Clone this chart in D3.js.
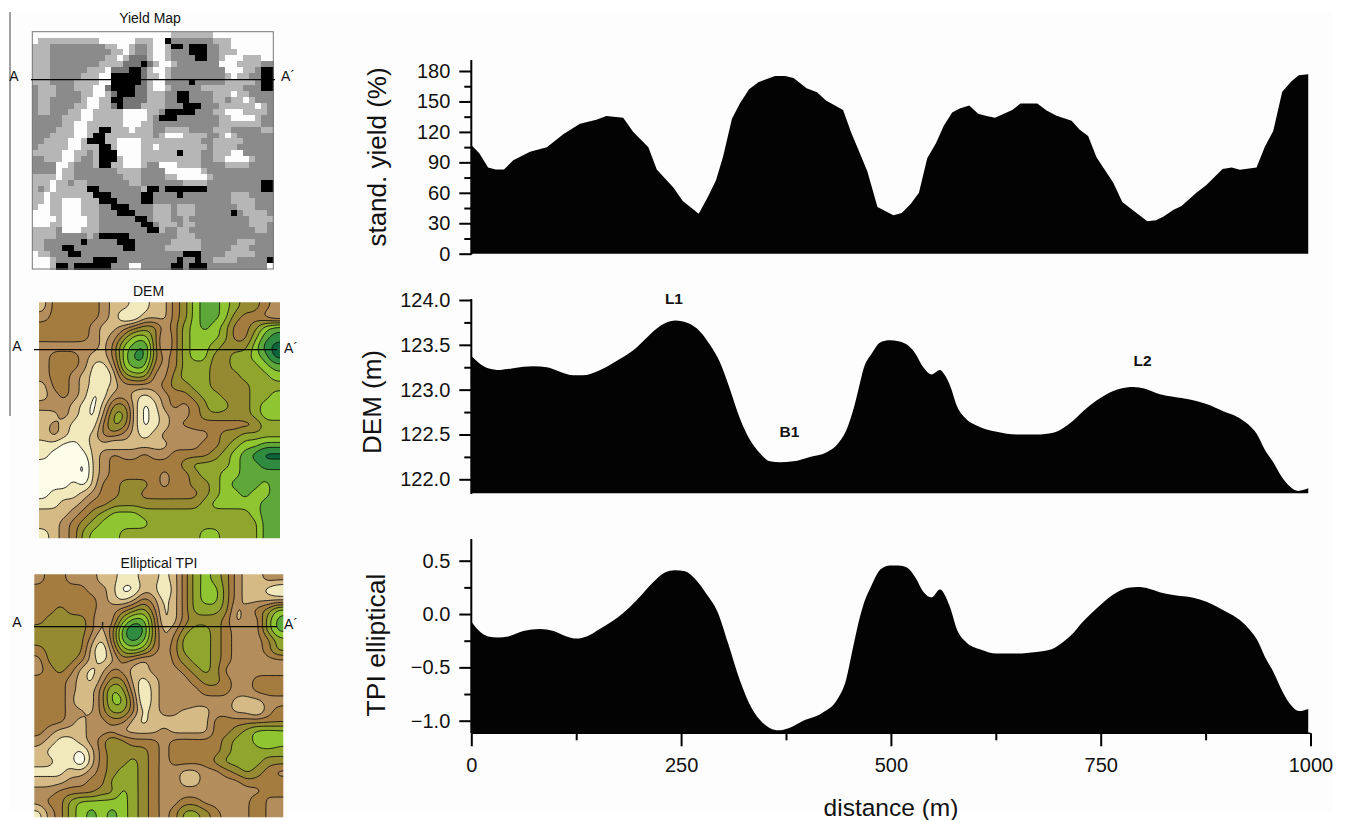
<!DOCTYPE html>
<html><head><meta charset="utf-8">
<script src="https://d3js.org/d3.v7.min.js"></script>
<style>html,body{margin:0;padding:0;background:#fff}svg{display:block}text{font-family:"Liberation Sans",Arial,sans-serif;fill:#111}</style>
</head><body><div id="c"></div>
<script>
// ---------- profile data (distance m / value) ----------
const yieldDist=[0,9.5,20,29,39,50,70,90,110,129.5,149,161,181,193,211,221,241,252,271,282,291.5,300,310.6,320,331,342,362,374,384,399.5,412,422.6,443,453,463,472,484,503,513,523.5,533.4,543.3,553.7,563,573,582,593.4,604,614,624,644.6,654.5,674.4,685.5,697.4,715.3,725,735,745,765,775.7,792.7,805.5,815.8,824.5,836.4,846.3,864,876,895.2,906,915.9,935.7,945.6,955.6,966.3,977.4,986,997.3];
const yieldVal=[107,99,85,83,83,92,100.5,105,118,128,132,135.6,134,120,105,83,65,52,39.4,56,72,95.6,133,148,162,169,175,175,173,163,159,151,141.5,118.6,99,81,46,38,40,49,60,94,108.7,126,139,143,146,138,135.6,134,141.5,148,148,141,136,131,122,116,95,70,51,40,32,33,36.5,43,47,60,67.6,83.4,85,82.8,85,105.4,120.9,159.6,170,175.7,176.7];
const demDist=[0,10.3,20,34,50,74,90,105.6,121.5,133,149,173,193,209,225,243,258.6,272.4,284.4,296,308,320,332,344,356,367.8,383.6,403.5,423,437,447,455,463,467,477,487.7,498.9,508.8,519.5,528.6,538.6,548.5,558.4,564.4,570.3,579.5,590,602,626,650,673.6,693.5,705,715.3,729,745,757,773,788.8,802.7,820.5,836.4,856.3,876,896,914,926,935.7,945.6,955.6,965.5,975.4,985.4,991,997.3];
const demVal=[123.375,123.29,123.24,123.22,123.24,123.26,123.25,123.2,123.16,123.16,123.2,123.32,123.44,123.58,123.71,123.77,123.74,123.65,123.5,123.31,123.01,122.68,122.44,122.29,122.2,122.19,122.2,122.25,122.3,122.4,122.55,122.77,123.07,123.22,123.4,123.53,123.55,123.54,123.5,123.41,123.25,123.17,123.22,123.16,123.05,122.8,122.67,122.6,122.53,122.5,122.5,122.52,122.57,122.64,122.76,122.88,122.95,123.01,123.03,123.01,122.95,122.92,122.89,122.84,122.76,122.69,122.61,122.51,122.33,122.19,122.03,121.92,121.87,121.88,121.9];
const tpiDist=[0,9.5,20,32,44,62,82,98,113.6,125.5,137.4,153,181,197,217,230.7,242.7,254.6,266.5,280,294,306,320,334,346,356,366,378,395.5,417.4,437,446.5,455,463,467,477,487.7,498.9,508.8,519.5,528.6,538.6,548.5,558.4,569.5,579.5,590,606,626,650,673.6,691.5,702,715,729,745,765,783,794.7,806.6,822.5,836.4,860.3,876,900,915.8,927.8,936.5,945.6,955.6,967.5,977.4,986,997.3];
const tpiVal=[-0.07,-0.16,-0.21,-0.22,-0.21,-0.16,-0.14,-0.16,-0.21,-0.23,-0.21,-0.14,0.01,0.13,0.30,0.39,0.41,0.40,0.33,0.19,0.01,-0.275,-0.62,-0.88,-1.01,-1.07,-1.09,-1.07,-1.0,-0.93,-0.79,-0.62,-0.31,-0.03,0.08,0.27,0.42,0.456,0.456,0.434,0.35,0.21,0.156,0.23,0.085,-0.16,-0.266,-0.33,-0.37,-0.37,-0.356,-0.33,-0.28,-0.197,-0.07,0.053,0.184,0.247,0.253,0.24,0.2,0.178,0.153,0.116,0.02,-0.056,-0.15,-0.244,-0.4,-0.54,-0.74,-0.86,-0.91,-0.89];
// ---------- ticks ----------
const yieldTicks=[0,30,60,90,120,150,180];
const yieldMinor=[15,45,75,105,135,165];
const demTicks=[122,122.5,123,123.5,124];
const demMinor=[122.25,122.75,123.25,123.75];
const tpiTicks=[-1,-0.5,0,0.5];
const tpiMinor=[-0.75,-0.25,0.25];
const distTicks=[0,250,500,750,1000];
const distMinor=[125,375,625,875];
const peakLabels=["L1","B1","L2"];
const peakDist=[241.5,379,800];
const peakDem=[123.955,122.47,123.26];
// ---------- map rasters ----------
const yieldClasses={W:"#fdfdfd",L:"#b6b6b6",M:"#8b8b8b",D:"#767676",K:"#050505"};
const yieldRows=[
"WWWWWWWWWWWWWWWWWWWWWWWLLLLLLLWWWWWWWWWW",
"WLLLLLLLLLLWWWWWWLLLWWKMMMMMMMLLLWWWWWWW",
"LLLMMMMMMMMMLLWWLMMLWWLKKMKKKMMLLWWWWWWW",
"LLLMMMMMMMMMMLLWLMMLWWLMMMKKKMMLLLWWWWWW",
"LLLMMMMMMMMMLLWLDDDLWWLMMMMKKMMLWWWLLLWW",
"LLLMMMMMMMMLLLLDDDKDLWWLMMMMMMMWWWLLLLMM",
"LLLMMMMMMLLLWDDDKKDLWWLMMMMMMMMMWWWLLMKK",
"LLLMMMMMLLLWWKKKKKDLLWLMMMMMMMMMLWLLMMKK",
"LLLMMMMLLLLWWKKKKKDLWWMMMMKMMMMMLLLLLMKK",
"MLLLMMMLLLWWDKKKKDDLWWLMMMMMLLLLLLLMMMKK",
"MLLLMMMMLLWWLDKKKDDLLLMMKKMMMMLLLWLLMMMM",
"MLLMMMMMLWWLLKKDDDDLLLMMKKMMMMLLMLLWLMMM",
"MLLMMMMLLWWLLDKDDDLLLLMMMKKKMMMLLLLLLWLM",
"MLLMMMLLWWLLLLLWWWWLLMKKKKKMMMLLWWWLLLLM",
"MMMMMLLLWWLLLLLWWWWLMKKKMMMMMMMLLWWWWLMM",
"MMMMMLLWWLLLLLLWWWLLMMMMMMMMMMMLLLLLLLMM",
"MMMMLLLWWLLKKLLLWLLLMMLLLLMMMMLLLMMMMMLL",
"MMMLLLLWWLKKLLLLLLLLMLWWWLLLLMMLWLMMMMMM",
"MMLLLLWWLKKKLLWWWWLLLLLLLLLLMMLLLLLMMMMM",
"MLLLLLWWLLLKKLWWWWLLWLLLLLLLLMLLLLMMMMMM",
"LLLLLWWLLMLKKKWWWWLLLLLLKLLLMMLLLWWMMMMM",
"MMLLLWWLMMLKKKLWWWLLLLLLLLLLMMLLWWWWLMMM",
"MMMMWWLMMMLKKLLWWWLMMWWWLLLLMMMMLLLLMMMM",
"MMMMWLLMMMMMMMLLLLMMMMWWWWWWLMMMMMMMMMMM",
"LLLLWLLMMMMMMMMLLLMMMMLLWWWWWLMMMMMMMMMM",
"LLLWLLMLLMMMMMMMLLMMMMMMMLLLLMMMMMMMMMKK",
"LMLWLLLLLKKMMMMMMMLKKMKKKKKKKMMMMMMMMMKK",
"LLWLLLLLLLKKKMMMMMKKMMMMKMMMMMMMMLLLMMMM",
"LLWLLWWWLLLKKKMMMMKKMMMMMMMMMMMMMLLLLMMM",
"LWWLLWWWLLLMMKKKMMMMLLLMLLLMMMMMMMLLLMMM",
"WWWLLWWWLLLMMMKKKMMMLLLMLLLMMMMMMKMLLLLM",
"WWWWLWWWWLLMMMMMMKKMLLLMMLMMMMMMMMMMLLLL",
"WWWLLWWWWLLMMMMMMMKKMLLLMLLMMMMMMMMMLLLM",
"LLLLMWWWLLLMMMMMMMMKKLMMLLMMMMMMMMMMMLLM",
"LLLLMMMMMLMKKKKKMMMMMMMMLLLMMMMMMMMMMMMM",
"LLMMMMMMKMMMMMKKKMMMMMMLLLLLMMMMMMLLLMMM",
"LLMMMKKMMMMMMMMKKMMMMMLLLLLLMMMMMLLLMMMM",
"WLLMMMKKMMMMMMMMMMMMMMMMMKKKMMMMLLLLLMMM",
"WWWLMMMMMMKKKKMMMMMMMMMMKMMKMMLLLLMMMMMK",
"WWWLKKMKKKKKKMMMWWMMMMMKKMKKKMMMMMMMMMMW"];
const reliefColors=["#e7e9f6","#fdfde9","#f1e8bb","#d5ba86","#b38e5c","#a47b41","#958a30","#90a52e","#90c532","#5da837","#2f8b40","#07653b"];
const demRows=[
"355555433223356899876654",
"455555431133356899865543",
"555554334566457898755689",
"55555434688635788875579a",
"4444443589a63578876668ab",
"455543358aa645788667789b",
"455542248995457776677789",
"455432136774467776667778",
"355432234444566776666777",
"345431244323455677666778",
"444321366312454568766788",
"334321477312344566666788",
"343212576312345555555577",
"343223554323443445667777",
"221123323333344455678899",
"211113454454455556789abb",
"1111034555555567777899aa",
"121103455555455677889999",
"111213556665455667899989",
"122234556655555567889889",
"223345566666666678888899",
"333456788877777777777899",
"334567888887777777777799",
"234578887777777788777799"];
const tpiRows=[
"455444332233235787643344",
"555554431133135788643321",
"555555432354235788643333",
"556555445675235777634568",
"566665347996235666534479",
"666665359ba6346776544479",
"666664259a96357876544457",
"566663147875457776544457",
"466653235434356776544444",
"456532354334445676444444",
"555432466323434566544555",
"555433587413444455544555",
"555423588513445444433344",
"555443577523443334433245",
"555434455323333335555555",
"543334443333433335567888",
"432234576555455555677898",
"322213566665456555677777",
"332203566765455556777766",
"222334567765443344567654",
"333445577765443344445555",
"445555668765444444444455",
"455788888765445544344644",
"245789898765457765444644"];
// ---------- layout helpers ----------
const W=1346,H=820;
const svg=d3.select("#c").append("svg").attr("width",W).attr("height",H);
svg.append("rect").attr("width",W).attr("height",H).attr("fill","#fff");
svg.append("rect").attr("x",9).attr("y",12).attr("width",1324).attr("height",800).attr("fill","#fdfdfd");
svg.append("line").attr("x1",10).attr("x2",10).attr("y1",12).attr("y2",416).attr("stroke","#444").attr("stroke-width",1);
const x=d3.scaleLinear().domain([0,1000]).range([471.3,1310.5]);
const defs=svg.append("defs");
defs.append("filter").attr("id","soft").append("feGaussianBlur").attr("stdDeviation",0.45);

function profile(dist,val,y,base,curve){
  const a=d3.area().curve(curve).x(d=>x(d[0])).y1(d=>y(d[1])).y0(base);
  svg.append("path").datum(d3.zip(dist,val)).attr("d",a).attr("fill","#030303");
}
function yAxis(y,major,minor,fmt,y0,y1){
  const g=svg.append("g").attr("transform","translate(471.3,0)");
  g.append("g").call(d3.axisLeft(y).tickValues(major).tickFormat(fmt).tickSize(12).tickPadding(9))
   .call(s=>s.select(".domain").remove())
   .call(s=>s.selectAll("line").attr("stroke","#000").attr("stroke-width",2))
   .call(s=>s.selectAll("text").attr("font-size",20).style("font-family",'"Liberation Sans",Arial,sans-serif').attr("fill","#111"));
  g.append("g").call(d3.axisLeft(y).tickValues(minor).tickFormat("").tickSize(7))
   .call(s=>s.select(".domain").remove())
   .call(s=>s.selectAll("line").attr("stroke","#000").attr("stroke-width",2));
  g.append("line").attr("y1",y0).attr("y2",y1).attr("stroke","#000").attr("stroke-width",2);
}
function vLabel(t,cx,cy,fs){
  svg.append("text").attr("transform",`translate(${cx},${cy}) rotate(-90)`).attr("text-anchor","middle").attr("font-size",fs).attr("fill","#111").text(t);
}
function smallText(t,px,py){
  svg.append("text").attr("x",px).attr("y",py).attr("text-anchor","middle").attr("font-size",14).attr("fill","#111").text(t);
}
// ---------- profiles ----------
const y1=d3.scaleLinear().domain([0,180]).range([253.7,71]);
const y2=d3.scaleLinear().domain([122,124]).range([479.3,300]);
const y3=d3.scaleLinear().domain([-1,0.5]).range([720.7,560.7]);
profile(yieldDist,yieldVal,y1,253.7,d3.curveLinear);
profile(demDist,demVal,y2,493.3,d3.curveMonotoneX);
profile(tpiDist,tpiVal,y3,733.3,d3.curveMonotoneX);
yAxis(y1,yieldTicks,yieldMinor,d3.format("d"),60,254.7);
yAxis(y2,demTicks,demMinor,d3.format(".1f"),299,494);
yAxis(y3,tpiTicks,tpiMinor,d3.format(".1f"),539,733);
const xg=svg.append("g").attr("transform","translate(0,733.3)");
xg.append("g").call(d3.axisBottom(x).tickValues(distTicks).tickFormat(d3.format("d")).tickSize(13).tickPadding(12))
  .call(s=>s.select(".domain").attr("stroke","#000").attr("stroke-width",1.5).attr("d",`M${x(0)},0H${x(1000)}`))
  .call(s=>s.selectAll("line").attr("stroke","#000").attr("stroke-width",2))
  .call(s=>s.selectAll("text").attr("font-size",20).style("font-family",'"Liberation Sans",Arial,sans-serif').attr("fill","#111"));
xg.append("g").call(d3.axisBottom(x).tickValues(distMinor).tickFormat("").tickSize(7))
  .call(s=>s.select(".domain").remove())
  .call(s=>s.selectAll("line").attr("stroke","#000").attr("stroke-width",2));
vLabel("stand. yield (%)",386,157,26);
vLabel("DEM (m)",381,402,26);
vLabel("TPI elliptical",385,645,26.5);
svg.append("text").attr("x",891).attr("y",816).attr("text-anchor","middle").attr("font-size",24.5).attr("fill","#111").text("distance (m)");
peakLabels.forEach((t,i)=>{
  svg.append("text").attr("x",x(peakDist[i])).attr("y",y2(peakDem[i])).attr("text-anchor","middle")
    .attr("font-size",15.5).attr("font-weight","bold").attr("fill","#111").text(t);
});
// ---------- yield map ----------
const box1={x:32.3,y:31.7,w:241,h:237.3};
const cellX=d3.scaleBand().domain(d3.range(40)).range([box1.x,box1.x+box1.w]);
const cellY=d3.scaleBand().domain(d3.range(40)).range([box1.y,box1.y+box1.h]);
const ym=svg.append("g").attr("filter","url(#soft)").attr("shape-rendering","crispEdges");
yieldRows.forEach((row,r)=>{
  const s=row.padEnd(40,row[row.length-1]).slice(0,40);
  ym.selectAll(null).data(s.split("")).enter().append("rect")
    .attr("x",(d,c)=>cellX(c)).attr("y",cellY(r)).attr("width",cellX.bandwidth()+.5).attr("height",cellY.bandwidth()+.5)
    .attr("fill",d=>yieldClasses[d]);
});
svg.append("rect").attr("x",box1.x).attr("y",box1.y).attr("width",box1.w).attr("height",box1.h).attr("fill","none").attr("stroke","#777").attr("stroke-width",1);
// ---------- relief maps ----------
function relief(rows,box){
  const nc=24,nr=24,f=6;
  const hexv=ch=>parseInt(ch,16);
  const grid=rows.map(r=>r.padEnd(nc,r[r.length-1]).slice(0,nc).split("").map(hexv));
  const w=(nc+2)*f,h=(nr+2)*f,vals=new Float64Array(w*h);
  const at=(r,c)=>grid[Math.max(0,Math.min(nr-1,r))][Math.max(0,Math.min(nc-1,c))];
  for(let j=0;j<h;j++)for(let i=0;i<w;i++){
    const gx=(i+.5)/f-1.5,gy=(j+.5)/f-1.5,c0=Math.floor(gx),r0=Math.floor(gy),tx=gx-c0,ty=gy-r0;
    vals[j*w+i]=(at(r0,c0)*(1-tx)+at(r0,c0+1)*tx)*(1-ty)+(at(r0+1,c0)*(1-tx)+at(r0+1,c0+1)*tx)*ty;
  }
  d3.blur2({data:vals,width:w,height:h},1.5);
  const levels=d3.range(1,reliefColors.length).map(k=>k-.5);
  const cs=d3.contours().size([w,h]).thresholds(levels)(Array.from(vals));
  const sx=box.w/nc/f,sy=box.h/nr/f;
  const proj=d3.geoTransform({point(px,py){this.stream.point(box.x+(px-f)*sx,box.y+(py-f)*sy);}});
  const path=d3.geoPath(proj);
  const id="clip"+Math.round(box.y);
  defs.append("clipPath").attr("id",id).append("rect").attr("x",box.x).attr("y",box.y).attr("width",box.w).attr("height",box.h);
  const g=svg.append("g").attr("clip-path",`url(#${id})`).append("g").attr("filter","url(#soft)");
  g.append("rect").attr("x",box.x).attr("y",box.y).attr("width",box.w).attr("height",box.h).attr("fill",reliefColors[0]);
  g.selectAll("path").data(cs).enter().append("path").attr("d",path)
    .attr("fill",(d,i)=>reliefColors[i+1]).attr("stroke","#111").attr("stroke-width",.9).attr("stroke-linejoin","round");
}
relief(demRows,{x:39,y:302.3,w:241,h:236});
relief(tpiRows,{x:34.3,y:574.3,w:249,h:243});
// ---------- map labels and section lines ----------
smallText("Yield Map",150,23);
smallText("DEM",148.5,296);
smallText("Elliptical TPI",159,568);
const sect=[[31,275,79.6],[34,277,349.7],[34,277,626.7]];
sect.forEach(s=>svg.append("line").attr("x1",s[0]).attr("x2",s[1]).attr("y1",s[2]).attr("y2",s[2]).attr("stroke","#000").attr("stroke-width",1.3));
smallText("A",14,81);smallText("A´",288,81);
smallText("A",17,351);smallText("A´",291,353);
smallText("A",17,627);smallText("A´",291,629);
</script></body></html>
